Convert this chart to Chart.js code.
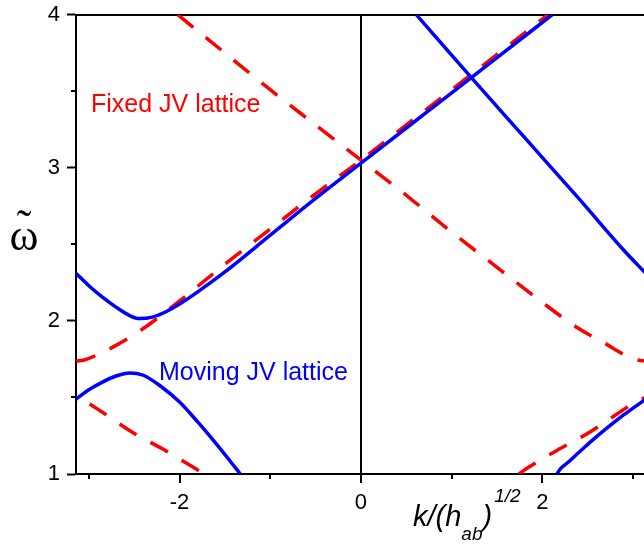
<!DOCTYPE html>
<html>
<head>
<meta charset="utf-8">
<title>JV lattice dispersion</title>
<script src="https://cdn.jsdelivr.net/npm/chart.js@4.4.1/dist/chart.umd.min.js"></script>
<style>
  html, body { margin: 0; padding: 0; background: #fff; }
  #wrap { width: 644px; height: 548px; }
</style>
</head>
<body>
<div id="wrap"><canvas id="dispersion" width="644" height="548"></canvas></div>
<script>
// axis ticks
const xTicks = [-2, 0, 2];
const xMinorTicks = [-3, -1, 1, 3];
const yTicks = [1, 2, 3, 4];
const yMinorTicks = [1.5, 2.5, 3.5];

// Fixed JV lattice (red dashed)
const kFixedDown = [-2.02, -1.5, -1.0, -0.5, 0, 0.5, 1.0, 1.5, 2.0, 2.4, 2.7, 2.9, 3.05, 3.14];
const wFixedDown = [4.0, 3.75, 3.51, 3.28, 3.05, 2.82, 2.58, 2.35, 2.12, 1.95, 1.85, 1.78, 1.745, 1.737];
const kFixedUp = [-3.14, -3.05, -2.9, -2.7, -2.4, -2.0, -1.5, -1.0, -0.5, 0, 0.5, 1.0, 1.5, 2.06];
const wFixedUp = [1.737, 1.745, 1.78, 1.84, 1.95, 2.13, 2.37, 2.60, 2.83, 3.05, 3.28, 3.51, 3.74, 4.0];
const kFixedLowL = [-3.14, -3.0, -2.88, -2.53, -2.18, -1.83, -1.73];
const wFixedLowL = [1.50, 1.46, 1.415, 1.276, 1.161, 1.037, 1.0];
const kFixedLowR = [1.74, 1.83, 2.18, 2.53, 2.88, 3.0, 3.14];
const wFixedLowR = [1.0, 1.037, 1.161, 1.276, 1.415, 1.46, 1.50];

// Moving JV lattice (blue solid)
const kMovUpper = [-3.14, -3.0, -2.85, -2.7, -2.55, -2.44, -2.3, -2.15, -2.0, -1.8, -1.5, -1.0, -0.5, 0, 0.5, 1.0, 1.5, 2.11];
const wMovUpper = [2.31, 2.23, 2.155, 2.09, 2.035, 2.015, 2.025, 2.06, 2.11, 2.19, 2.32, 2.56, 2.80, 3.03, 3.26, 3.49, 3.72, 4.0];
const kMovDown = [0.61, 1.2, 1.8, 2.4, 2.9, 3.14];
const wMovDown = [4.0, 3.6, 3.2, 2.8, 2.46, 2.31];
const kMovLowL = [-3.14, -3.0, -2.85, -2.7, -2.55, -2.4, -2.2, -2.0, -1.8, -1.6, -1.45, -1.33];
const wMovLowL = [1.49, 1.55, 1.60, 1.64, 1.66, 1.645, 1.57, 1.47, 1.34, 1.2, 1.09, 1.0];
const kMovLowR = [2.16, 2.2, 2.27, 2.4, 2.53, 2.7, 2.86, 3.0, 3.14];
const wMovLowR = [1.0, 1.035, 1.07, 1.14, 1.21, 1.295, 1.37, 1.43, 1.49];

const RED = '#ff0000';
const BLUE = '#0000ff';
const SANS = '"Liberation Sans", Arial, sans-serif';
const SERIF = '"Liberation Serif", "DejaVu Serif", serif';

const pts = (ks, ws) => ks.map((k, i) => ({ x: k, y: ws[i] }));

const line = (ks, ws, color, dashed, dashOffset) => ({
  data: pts(ks, ws),
  showLine: true,
  borderColor: color,
  borderWidth: 3.5,
  borderDash: dashed ? [20, 16] : [],
  borderDashOffset: dashOffset || 0,
  borderCapStyle: 'butt',
  pointRadius: 0,
  fill: false,
  cubicInterpolationMode: 'monotone'
});

// blue first so it is painted on top of the red
const datasets = [
  line(kMovUpper, wMovUpper, BLUE, false),
  line(kMovDown, wMovDown, BLUE, false),
  line(kMovLowL, wMovLowL, BLUE, false),
  line(kMovLowR, wMovLowR, BLUE, false),
  line(kFixedDown, wFixedDown, RED, true),
  line(kFixedUp, wFixedUp, RED, true),
  line(kFixedLowL, wFixedLowL, RED, true, 21),
  line(kFixedLowR, wFixedLowR, RED, true)
];

// minor ticks, curve labels and axis titles
const extras = {
  id: 'extras',
  afterDraw(chart) {
    const { ctx, chartArea, scales: { x, y } } = chart;
    ctx.save();
    ctx.strokeStyle = '#000';
    ctx.lineWidth = 2;
    xMinorTicks.forEach(v => {
      const px = Math.round(x.getPixelForValue(v));
      ctx.beginPath();
      ctx.moveTo(px, chartArea.bottom);
      ctx.lineTo(px, chartArea.bottom + 5);
      ctx.stroke();
    });
    yMinorTicks.forEach(v => {
      const py = Math.round(y.getPixelForValue(v));
      ctx.beginPath();
      ctx.moveTo(chartArea.left, py);
      ctx.lineTo(chartArea.left - 5, py);
      ctx.stroke();
    });

    ctx.textAlign = 'left';
    ctx.textBaseline = 'alphabetic';
    ctx.font = '25px ' + SANS;
    ctx.fillStyle = RED;
    ctx.fillText('Fixed JV lattice', 91, 112);
    ctx.fillStyle = BLUE;
    ctx.fillText('Moving JV lattice', 159, 380);

    // x title: k/(h_ab)^(1/2)
    ctx.fillStyle = '#000';
    let tx = 413;
    const base = 526;
    ctx.font = 'italic 29px ' + SANS;
    ctx.fillText('k/(h', tx, base);
    tx += ctx.measureText('k/(h').width;
    ctx.font = 'italic 19px ' + SANS;
    ctx.fillText('ab', tx, base + 14);
    tx += ctx.measureText('ab').width;
    ctx.font = 'italic 29px ' + SANS;
    ctx.fillText(')', tx, base);
    tx += ctx.measureText(')').width + 2;
    ctx.font = 'italic 19px ' + SANS;
    ctx.fillText('1/2', tx, base - 24);

    // y title: omega with a tilde on top
    ctx.textAlign = 'center';
    ctx.font = '44px ' + SERIF;
    ctx.fillText('\u03C9', 24, 250);
    ctx.fillText('\u02DC', 24, 240);
    ctx.restore();
  }
};

new Chart(document.getElementById('dispersion'), {
  type: 'scatter',
  data: { datasets },
  options: {
    responsive: false,
    animation: false,
    devicePixelRatio: 1,
    events: [],
    layout: { padding: 0 },
    plugins: { legend: { display: false }, tooltip: { enabled: false } },
    scales: {
      x: {
        type: 'linear',
        position: 'bottom',
        min: -3.1416,
        max: 3.12,
        afterBuildTicks: s => { s.ticks = xTicks.map(v => ({ value: v })); },
        afterFit: s => { s.height = 74; s.paddingLeft = 0; s.paddingRight = 0; },
        ticks: { color: '#000', font: { family: SANS, size: 22 }, padding: 7, maxRotation: 0 },
        grid: {
          drawOnChartArea: true,
          color: c => (c.tick && c.tick.value === 0 ? '#000' : 'rgba(0,0,0,0)'),
          lineWidth: 2,
          drawTicks: true,
          tickLength: 9,
          tickColor: '#000',
          tickWidth: 2
        },
        border: { display: true, color: '#000', width: 2 }
      },
      xTop: {
        type: 'linear',
        position: 'top',
        min: -3.1416,
        max: 3.12,
        afterFit: s => { s.height = 14.7; s.paddingLeft = 0; s.paddingRight = 0; },
        ticks: { display: false },
        grid: { display: false, drawTicks: false },
        border: { display: true, color: '#000', width: 2 }
      },
      y: {
        type: 'linear',
        position: 'left',
        min: 1,
        max: 4,
        afterBuildTicks: s => { s.ticks = yTicks.map(v => ({ value: v })); },
        afterFit: s => { s.width = 76; s.paddingTop = 0; s.paddingBottom = 0; },
        ticks: { color: '#000', font: { family: SANS, size: 22 }, padding: 7 },
        grid: {
          drawOnChartArea: false,
          drawTicks: true,
          tickLength: 9,
          tickColor: '#000',
          tickWidth: 2
        },
        border: { display: true, color: '#000', width: 2 }
      }
    }
  },
  plugins: [extras]
});
</script>
</body>
</html>
